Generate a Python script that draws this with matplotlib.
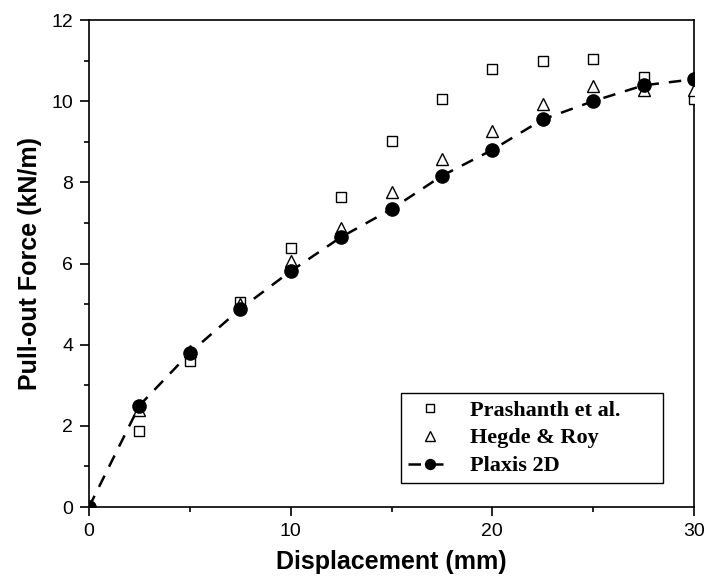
import matplotlib
matplotlib.use("Agg")
import matplotlib.pyplot as plt
from matplotlib.ticker import MultipleLocator

disp_exp = [2.5, 5, 7.5, 10, 12.5, 15, 17.5, 20, 22.5, 25, 27.5, 30]
prashanth = [1.87, 3.6, 5.04, 6.37, 7.65, 9.01, 10.05, 10.8, 11.0, 11.04, 10.6, 10.05]
hegde = [2.4, 3.85, 5.0, 6.06, 6.88, 7.75, 8.57, 9.27, 9.92, 10.37, 10.28, 10.27]
disp_plaxis = [0, 2.5, 5, 7.5, 10, 12.5, 15, 17.5, 20, 22.5, 25, 27.5, 30]
plaxis = [0, 2.5, 3.8, 4.88, 5.81, 6.65, 7.34, 8.16, 8.8, 9.55, 10.0, 10.39, 10.54]

plt.rcParams['font.family'] = ['Liberation Sans', 'DejaVu Sans']

fig = plt.figure(figsize=(7.08, 5.85), dpi=100)
ax = fig.add_axes([89/708, 1-507/585, (694-89)/708, (507-20)/585])

ax.plot(disp_exp, prashanth, linestyle='none', marker='s', markersize=7.5,
        markerfacecolor='white', markeredgecolor='black', markeredgewidth=1.0,
        label='Prashanth et al.', zorder=3)
ax.plot(disp_exp, hegde, linestyle='none', marker='^', markersize=9,
        markerfacecolor='white', markeredgecolor='black', markeredgewidth=1.0,
        label='Hegde & Roy', zorder=4)
ax.plot(disp_plaxis, plaxis, linestyle=(0, (5, 4)), color='black', linewidth=1.8,
        marker='o', markersize=9.5, markerfacecolor='black', markeredgecolor='black',
        label='Plaxis 2D', zorder=5)

ax.set_xlim(0, 30)
ax.set_ylim(0, 12)
ax.xaxis.set_major_locator(MultipleLocator(10))
ax.xaxis.set_minor_locator(MultipleLocator(5))
ax.yaxis.set_major_locator(MultipleLocator(2))
ax.yaxis.set_minor_locator(MultipleLocator(1))
ax.tick_params(which='major', direction='out', length=6.5, width=1.2, labelsize=14, pad=5)
ax.tick_params(which='minor', direction='out', length=3.5, width=1.2)
for s in ax.spines.values():
    s.set_linewidth(1.2)

ax.set_xlabel('Displacement (mm)', fontsize=18, fontweight='bold', labelpad=7)
ax.set_ylabel('Pull-out Force (kN/m)', fontsize=18, fontweight='bold', labelpad=7)

x0 = (401-89)/605
w = (663-401)/605
y0 = (507-483)/487
leg = ax.legend(loc='lower left', bbox_to_anchor=(x0, y0, w, 0.1), mode='expand',
                frameon=True, fancybox=False, edgecolor='black', framealpha=1,
                prop={'family': 'Liberation Serif', 'weight': 'bold', 'size': 16},
                handlelength=2.0, handletextpad=0.8, borderpad=0.3, labelspacing=0.33,
                borderaxespad=0, markerscale=0.75)
leg.get_frame().set_linewidth(1.0)

fig.savefig('out.png', dpi=100)
